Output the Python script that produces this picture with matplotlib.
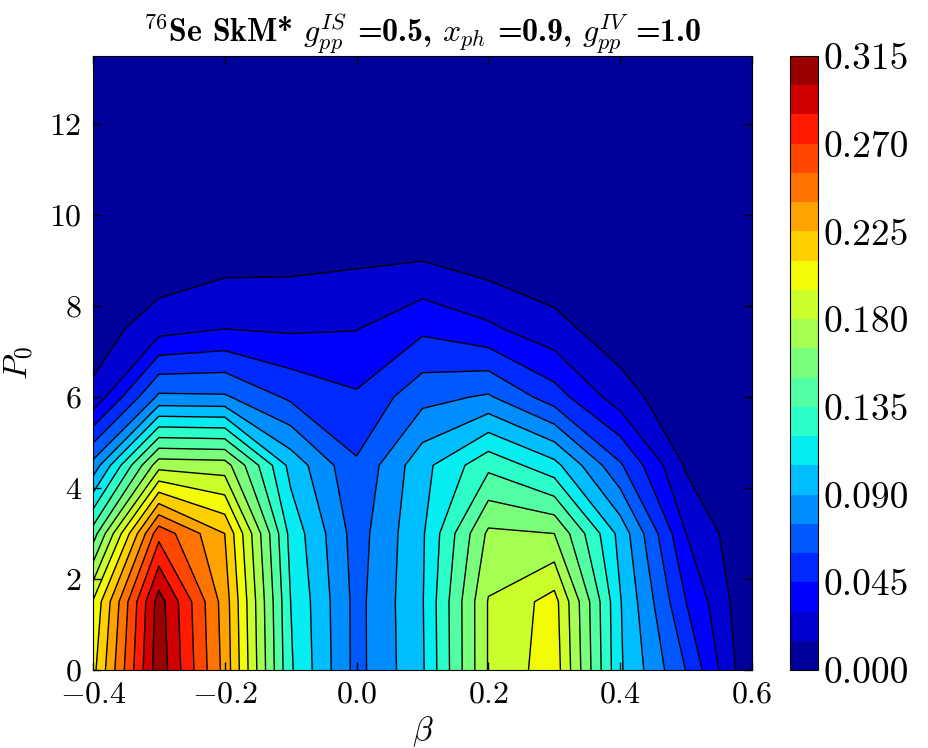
import numpy as np
import matplotlib
matplotlib.use('Agg')
import matplotlib.pyplot as plt

plt.rcParams['font.family'] = 'serif'
plt.rcParams['font.serif'] = ['cmr10']
plt.rcParams['mathtext.fontset'] = 'cm'
plt.rcParams['axes.formatter.use_mathtext'] = True
plt.rcParams['axes.unicode_minus'] = True
plt.rcParams['xtick.direction'] = 'in'
plt.rcParams['ytick.direction'] = 'in'
plt.rcParams['xtick.top'] = True
plt.rcParams['ytick.right'] = True

# deformation grid and pairing strength grid
beta = [-0.4, -0.3, -0.2, -0.1, 0.0, 0.1, 0.2, 0.3, 0.4, 0.5, 0.6]
p0 = [0.0, 1.5, 3.0, 4.5, 6.0, 7.5, 9.0, 10.5, 12.0, 13.5]

# strength vs P0, one list per beta value
s_b_m04 = [0.205, 0.196, 0.142, 0.080, 0.0185, 0.0065, 0.002, 0.0005, 0.0, 0.0]
s_b_m03 = [0.310, 0.307, 0.265, 0.174, 0.078, 0.024, 0.004, 0.001, 0.0, 0.0]
s_b_m02 = [0.235, 0.233, 0.225, 0.172, 0.077, 0.030, 0.0099, 0.002, 0.0, 0.0]
s_b_m01 = [0.122, 0.120, 0.115, 0.100, 0.057, 0.028, 0.011, 0.002, 0.0, 0.0]
s_b_00 = [0.070, 0.070, 0.068, 0.062, 0.047, 0.0295, 0.013, 0.003, 0.0, 0.0]
s_b_01 = [0.103, 0.104, 0.103, 0.100, 0.070, 0.042, 0.0148, 0.004, 0.0, 0.0]
s_b_02 = [0.181, 0.181, 0.168, 0.131, 0.077, 0.033, 0.0077, 0.001, 0.0, 0.0]
s_b_03 = [0.204, 0.201, 0.165, 0.110, 0.052, 0.020, 0.004, 0.001, 0.0, 0.0]
s_b_04 = [0.107, 0.106, 0.100, 0.062, 0.022, 0.006, 0.001, 0.0, 0.0, 0.0]
s_b_05 = [0.0595, 0.045, 0.030, 0.013, 0.003, 0.0, 0.0, 0.0, 0.0, 0.0]
s_b_06 = [0.0, 0.0, 0.0, 0.0, 0.0, 0.0, 0.0, 0.0, 0.0, 0.0]

cols = [s_b_m04, s_b_m03, s_b_m02, s_b_m01, s_b_00, s_b_01,
        s_b_02, s_b_03, s_b_04, s_b_05, s_b_06]
Z = np.array(cols).T  # rows: P0, columns: beta

levels = np.arange(0.0, 0.315 + 1e-9, 0.015)
cbar_ticks = np.arange(0.0, 0.315 + 1e-9, 0.045)

fig = plt.figure(figsize=(9.29, 7.48), dpi=100)
ax = fig.add_axes([0.100, 0.1043, 0.7095, 0.8209])
cf = ax.contourf(beta, p0, Z, levels=levels, cmap='jet')
ax.contour(beta, p0, Z, levels=levels[1:-1], colors='k', linewidths=1.0)

ax.set_xlim(-0.4, 0.6)
ax.set_ylim(0, 13.5)
ax.set_xticks([-0.4, -0.2, 0.0, 0.2, 0.4, 0.6])
ax.set_yticks([0, 2, 4, 6, 8, 10, 12])
ax.tick_params(labelsize=23, length=6, width=1, pad=8)
ax.set_xlabel(r'$\beta$', fontsize=24, labelpad=4)
ax.set_ylabel(r'$P_0$', fontsize=24, labelpad=10)
ax.set_title(r'$^{76}$Se SkM* $g_{pp}^{IS}$ =0.5, $x_{ph}$ =0.9, $g_{pp}^{IV}$ =1.0',
             fontsize=23, fontfamily='cmb10', pad=8)

cax = fig.add_axes([0.850, 0.1043, 0.030, 0.8209])
cb = fig.colorbar(cf, cax=cax, ticks=cbar_ticks)
cb.ax.set_yticklabels(['%.3f' % t for t in cbar_ticks])
cb.ax.tick_params(labelsize=27, length=0, pad=4)

fig.savefig('out.png', dpi=100)
